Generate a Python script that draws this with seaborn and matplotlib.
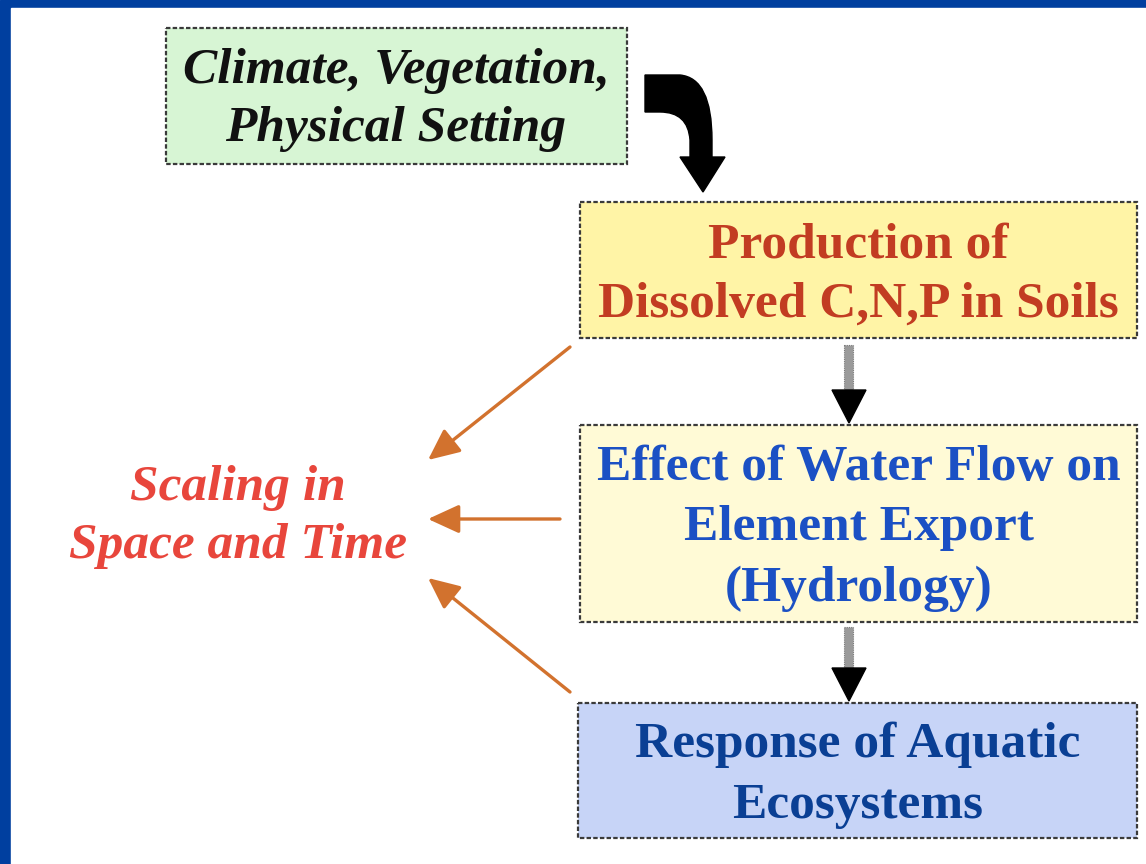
import matplotlib
matplotlib.use('Agg')
import matplotlib.pyplot as plt
import seaborn as sns
from matplotlib.patches import Rectangle, Polygon, PathPatch
from matplotlib.path import Path

sns.set_theme(style='white')
plt.rcParams['font.family'] = ['Liberation Serif', 'DejaVu Serif']

# box texts
top_label = 'Climate, Vegetation,\nPhysical Setting'
flow_labels = ['Production of\nDissolved C,N,P in Soils',
               'Effect of Water Flow on\nElement Export\n(Hydrology)',
               'Response of Aquatic\nEcosystems']
side_label = 'Scaling in\nSpace and Time'

fig = plt.figure(figsize=(11.46, 8.64), dpi=100)
ax = fig.add_axes([0, 0, 1, 1])
ax.set_xlim(0, 1146)
ax.set_ylim(864, 0)
ax.axis('off')

# blue frame
ax.add_patch(Rectangle((0, 0), 1146, 864, color='#003f9f', zorder=0))
ax.add_patch(Rectangle((11, 8), 1146, 864, color='white', zorder=0))

def box(x0, y0, x1, y1, fc):
    ax.add_patch(Rectangle((x0, y0), x1 - x0, y1 - y0, facecolor=fc,
                           edgecolor='#3a3a3a', lw=1.6, ls=(0, (2, 1)), zorder=2))

# top green box
box(166, 28, 627, 164, '#d7f5d4')
ax.text(396, 100, top_label, ha='center', va='center', fontsize=37,
        fontweight='bold', style='italic', color='#111111', linespacing=1.36, zorder=3)

# flow boxes
boxes = [(580, 202, 1137, 338), (580, 425, 1137, 622), (578, 703, 1137, 838)]
fills = ['#fff4a6', '#fffad6', '#c7d4f7']
tcols = ['#c23c22', '#1b50c4', '#0a3f94']
spacing = [1.38, 1.42, 1.42]
for (x0, y0, x1, y1), fc, tc, lab, ls in zip(boxes, fills, tcols, flow_labels, spacing):
    box(x0, y0, x1, y1, fc)
    ax.text((x0 + x1) / 2, (y0 + y1) / 2 + 5, lab, ha='center', va='center',
            fontsize=37, fontweight='bold', color=tc, linespacing=ls, zorder=3)

# curved black arrow
verts = [(645, 75), (680, 75), (712, 78), (712, 140), (712, 157), (725, 157),
         (703, 192), (680, 157), (690, 157), (690, 140), (688, 112), (660, 112),
         (645, 112), (645, 75)]
codes = [Path.MOVETO, Path.LINETO, Path.CURVE3, Path.CURVE3, Path.LINETO, Path.LINETO,
         Path.LINETO, Path.LINETO, Path.LINETO, Path.LINETO, Path.CURVE3, Path.CURVE3,
         Path.LINETO, Path.CLOSEPOLY]
ax.add_patch(PathPatch(Path(verts, codes), facecolor='black', edgecolor='black', zorder=3))

# down arrows between boxes
for y_top, y_tip in [(345, 423), (627, 701)]:
    ax.add_patch(Rectangle((844, y_top), 9, y_tip - y_top - 32, facecolor='#9a9a9a',
                           edgecolor='#7a7a7a', lw=0.8, ls=(0, (1, 1)), zorder=3))
    ax.add_patch(Polygon([(832, y_tip - 33), (866, y_tip - 33), (849, y_tip)],
                         closed=True, color='black', zorder=3))

# scaling text
ax.text(238, 517, side_label, ha='center', va='center', fontsize=37,
        fontweight='bold', style='italic', color='#e8463c', linespacing=1.36, zorder=3)

# orange arrows
for start, end in [((570, 347), (428, 460)), ((560, 519), (428, 519)), ((570, 692), (428, 578))]:
    ax.annotate('', xy=end, xytext=start,
                arrowprops=dict(arrowstyle='-|>,head_length=1.2,head_width=0.55',
                                color='#d2722e', lw=2.4, mutation_scale=16,
                                shrinkA=0, shrinkB=0), zorder=3)

fig.savefig('out.png', dpi=100)
